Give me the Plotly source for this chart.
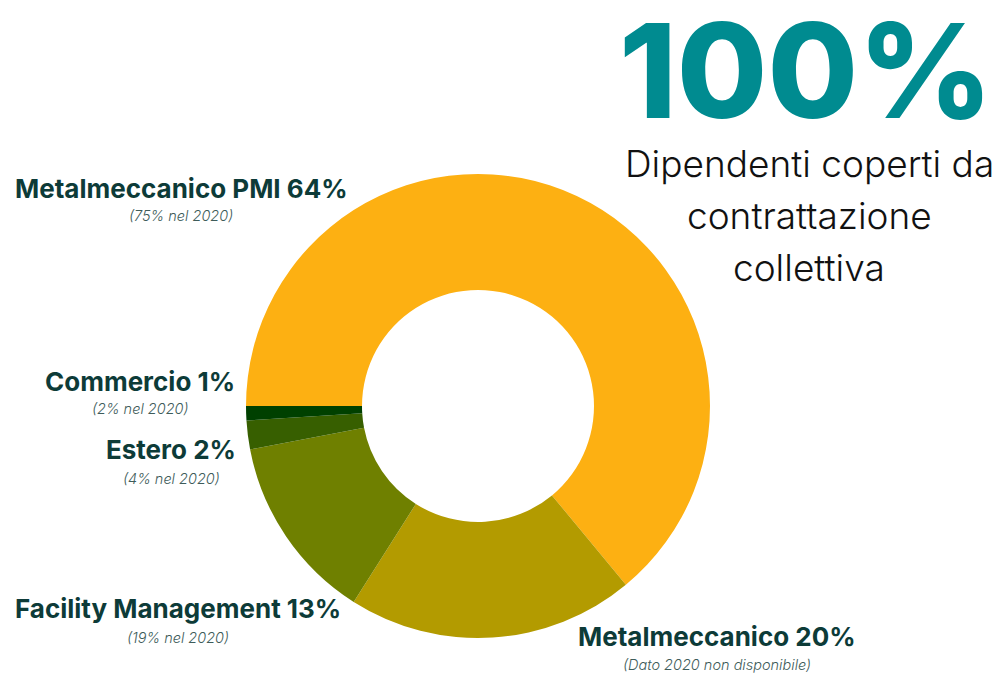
import plotly.graph_objects as go

W, H = 1004, 673

sectors = ["Metalmeccanico PMI", "Metalmeccanico", "Facility Management", "Estero", "Commercio"]
values = [64, 20, 13, 2, 1]
notes = ["(75% nel 2020)", "(Dato 2020 non disponibile)", "(19% nel 2020)", "(4% nel 2020)", "(2% nel 2020)"]
colors = ["#FDB012", "#B39B00", "#6F8000", "#375F00", "#004000"]

# label placement in pixels (center x, title y, note y)
label_pos = [(181, 188, 216), (717, 636, 664), (178, 608, 637), (171, 449, 478), (140, 381, 409)]

headline = "100%"
subtitle_lines = ["Dipendenti coperti da", "contrattazione", "collettiva"]

DARK = "#0D3B38"
TEAL = "#008B90"

def px(x):
    return x / W

def py(y):
    return 1 - y / H

cx, cy, r = 478, 406, 232

fig = go.Figure(go.Pie(
    labels=sectors,
    values=values,
    hole=0.5,
    sort=False,
    direction="clockwise",
    rotation=270,
    marker=dict(colors=colors, line=dict(width=0)),
    textinfo="none",
    hoverinfo="label+percent",
    domain=dict(x=[px(cx - r), px(cx + r)], y=[py(cy + r), py(cy - r)]),
    showlegend=False,
))

annotations = []
for name, v, note, (lx, ty, ny) in zip(sectors, values, notes, label_pos):
    annotations.append(dict(
        x=px(lx), y=py(ty), xref="paper", yref="paper", xanchor="center", yanchor="middle",
        text=f"{name} {v}%", showarrow=False,
        font=dict(family="Inter", size=26, color=DARK, weight=700),
    ))
    annotations.append(dict(
        x=px(lx), y=py(ny), xref="paper", yref="paper", xanchor="center", yanchor="middle",
        text=f"<i>{note}</i>", showarrow=False,
        font=dict(family="Inter", size=14.5, color="#3E5C5A", weight=300),
    ))

annotations.append(dict(
    x=px(806), y=py(70), xref="paper", yref="paper", xanchor="center", yanchor="middle",
    text=headline, showarrow=False, height=100, valign="middle",
    font=dict(family="Inter", size=131, color=TEAL, weight=800),
))
for line, ly in zip(subtitle_lines, [163, 216, 268]):
    annotations.append(dict(
        x=px(809), y=py(ly), xref="paper", yref="paper", xanchor="center", yanchor="middle",
        text=line, showarrow=False,
        font=dict(family="Inter", size=37, color="#111111", weight=300),
    ))

fig.update_layout(
    width=W, height=H,
    margin=dict(l=0, r=0, t=0, b=0),
    paper_bgcolor="white", plot_bgcolor="white",
    annotations=annotations,
)

fig.write_html("out.html", config={"displayModeBar": False},
               post_script="document.body.style.margin='0';")
